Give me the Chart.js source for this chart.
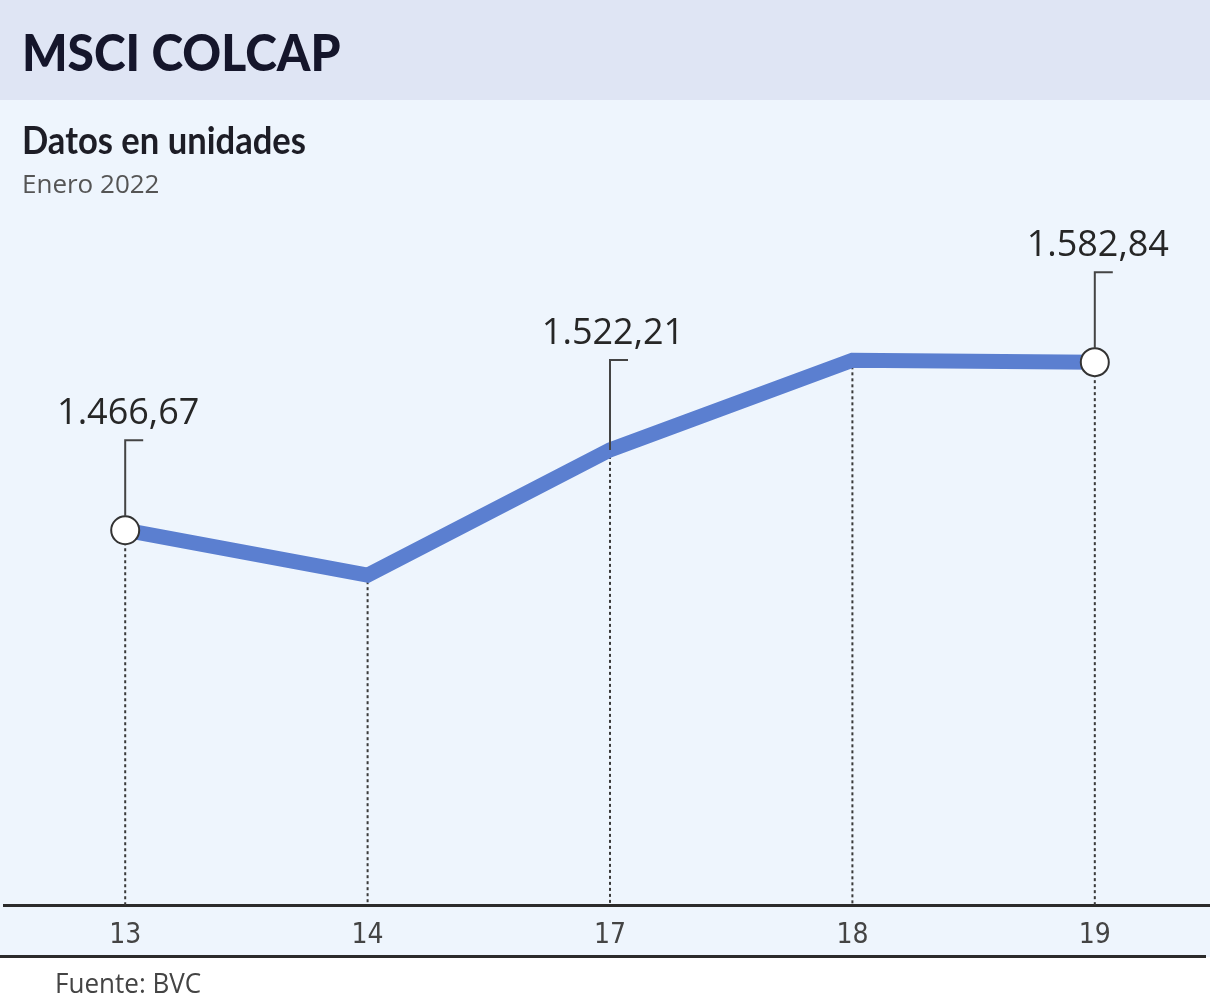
<!DOCTYPE html>
<html>
<head>
<meta charset="utf-8">
<script src="https://cdn.jsdelivr.net/npm/chart.js@4"></script>
<style>
  html, body { margin: 0; padding: 0; background: #ffffff; }
  #wrap { position: relative; width: 1210px; height: 1004px; overflow: hidden; }
  #c { position: absolute; left: 0; top: 0; }
  .txt { position: absolute; white-space: nowrap; transform-origin: 0 0; }
  #title { left: 22px; top: 22px; font-family: Lato, "Open Sans", sans-serif; font-weight: 900; font-size: 51px; color: #15162b; line-height: 60px; transform: scaleX(0.94); }
  #sub { left: 22px; top: 116px; font-family: Lato, "Open Sans", sans-serif; font-weight: 700; font-size: 38px; color: #1d1d26; line-height: 46px; transform: scaleX(0.91); }
  #date { left: 22px; top: 167px; font-family: "Open Sans", sans-serif; font-size: 26px; color: #555; line-height: 32px; }
  #src { left: 55px; top: 965px; font-family: "Open Sans", sans-serif; font-size: 28px; color: #444; line-height: 34px; transform: scaleX(0.93); }
</style>
</head>
<body>
<div id="wrap">
  <canvas id="c" width="1216" height="1004"></canvas>
  <div class="txt" id="title">MSCI COLCAP</div>
  <div class="txt" id="sub">Datos en unidades</div>
  <div class="txt" id="date">Enero 2022</div>
  <div class="txt" id="src">Fuente: BVC</div>
</div>
<script>
const days = ["13", "14", "17", "18", "19"];
const colcap = [1466.67, 1435.6, 1522.21, 1584.1, 1582.84];
const labelText = ["1.466,67", null, "1.522,21", null, "1.582,84"];
const markerShown = [true, false, false, false, true];

const bgPlugin = {
  id: 'bg',
  beforeDraw(chart) {
    const ctx = chart.ctx;
    ctx.save();
    ctx.fillStyle = '#ffffff';
    ctx.fillRect(0, 0, chart.width, chart.height);
    ctx.fillStyle = '#dfe5f4';
    ctx.fillRect(0, 0, chart.width, 100);
    ctx.fillStyle = '#eef5fd';
    ctx.fillRect(0, 100, chart.width, 857);
    ctx.fillStyle = '#2b2b2b';
    ctx.fillRect(0, 955, 1206, 3);
    ctx.restore();
  },
  beforeDatasetsDraw(chart) {
    const ctx = chart.ctx;
    const meta = chart.getDatasetMeta(0);
    const bottom = chart.chartArea.bottom;
    ctx.save();
    ctx.strokeStyle = '#3a3a3a';
    ctx.lineWidth = 2;
    ctx.setLineDash([3, 3]);
    meta.data.forEach((pt, i) => {
      ctx.beginPath();
      ctx.moveTo(pt.x, pt.y);
      ctx.lineTo(pt.x, bottom);
      ctx.stroke();
    });
    ctx.restore();
  },
  afterDatasetsDraw(chart) {
    const ctx = chart.ctx;
    const meta = chart.getDatasetMeta(0);
    ctx.save();
    meta.data.forEach((pt, i) => {
      if (!labelText[i]) return;
      const top = pt.y - 90;
      const r = markerShown[i] ? 14 : 0;
      ctx.strokeStyle = '#444';
      ctx.lineWidth = 2;
      ctx.setLineDash([]);
      ctx.beginPath();
      ctx.moveTo(pt.x + 18, top);
      ctx.lineTo(pt.x, top);
      ctx.lineTo(pt.x, pt.y - r);
      ctx.stroke();
      ctx.fillStyle = '#262626';
      ctx.font = '36px "Open Sans", sans-serif';
      ctx.textAlign = 'center';
      ctx.textBaseline = 'alphabetic';
      ctx.fillText(labelText[i], pt.x + 3, top - 16);
    });
    ctx.restore();
  }
};

new Chart(document.getElementById('c'), {
  type: 'line',
  data: {
    labels: days,
    datasets: [{
      data: colcap,
      borderColor: '#5b7fd0',
      borderWidth: 15,
      pointRadius: markerShown.map(m => m ? 14 : 0),
      pointBackgroundColor: '#ffffff',
      pointBorderColor: '#333333',
      pointBorderWidth: 2,
      tension: 0
    }]
  },
  options: {
    responsive: false,
    animation: false,
    layout: { autoPadding: false, padding: { top: 200, bottom: 37, left: 4, right: 0 } },
    plugins: { legend: { display: false }, tooltip: { enabled: false } },
    scales: {
      x: {
        offset: true,
        grid: { display: false, drawTicks: false },
        border: { display: true, color: '#2b2b2b', width: 3 },
        ticks: {
          padding: 14,
          color: '#444',
          font: { family: '"Liberation Sans Narrow", "DejaVu Sans Condensed", "Open Sans", sans-serif', size: 28 }
        }
      },
      y: {
        display: false,
        min: 1207.4,
        max: 1694.9
      }
    }
  },
  plugins: [bgPlugin]
});
</script>
</body>
</html>
